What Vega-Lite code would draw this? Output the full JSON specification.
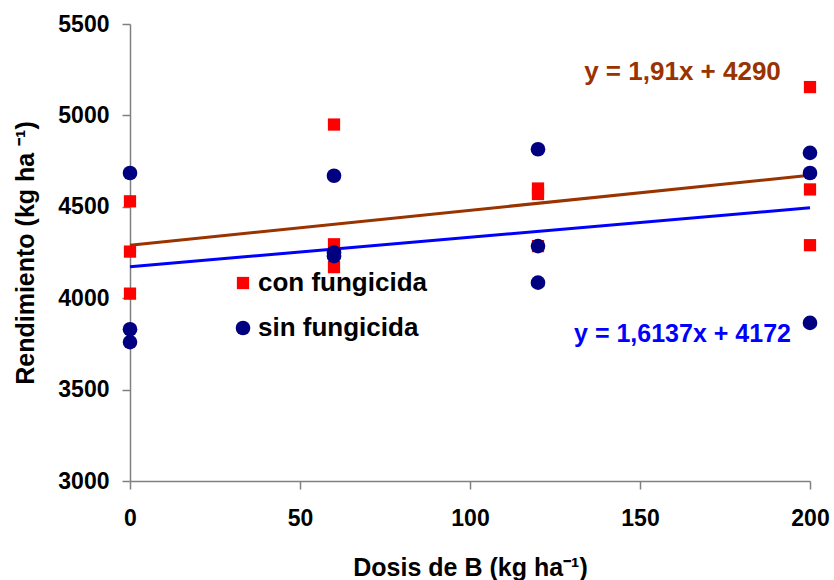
{
  "$schema": "https://vega.github.io/schema/vega-lite/v6.json",
  "width": 680,
  "height": 457,
  "autosize": "none",
  "padding": {"left": 130, "top": 24, "right": 24, "bottom": 99},
  "background": "white",
  "config": {
    "view": {"stroke": null},
    "font": "Liberation Sans",
    "axis": {
      "grid": false,
      "domainColor": "#808080",
      "domainWidth": 1.5,
      "tickColor": "#808080",
      "tickWidth": 1.5,
      "tickSize": 8,
      "labelFont": "Liberation Sans",
      "labelFontWeight": "bold",
      "labelFontSize": 23,
      "labelColor": "black",
      "titleFont": "Liberation Sans",
      "titleFontWeight": "bold",
      "titleFontSize": 25,
      "titleColor": "black"
    }
  },
  "layer": [
    {
      "data": {"values": [
        {"dosis": 0, "rend": 4290}, {"dosis": 200, "rend": 4672}
      ]},
      "mark": {"type": "line", "color": "#993300", "strokeWidth": 3},
      "encoding": {
        "x": {"field": "dosis", "type": "quantitative"},
        "y": {"field": "rend", "type": "quantitative"}
      }
    },
    {
      "data": {"values": [
        {"dosis": 0, "rend": 4172}, {"dosis": 200, "rend": 4494.7}
      ]},
      "mark": {"type": "line", "color": "#0000FF", "strokeWidth": 3},
      "encoding": {
        "x": {"field": "dosis", "type": "quantitative"},
        "y": {"field": "rend", "type": "quantitative"}
      }
    },
    {
      "data": {"values": [
        {"dosis": 0, "rend": 4530, "trat": "con fungicida"},
        {"dosis": 0, "rend": 4255, "trat": "con fungicida"},
        {"dosis": 0, "rend": 4025, "trat": "con fungicida"},
        {"dosis": 60, "rend": 4950, "trat": "con fungicida"},
        {"dosis": 60, "rend": 4295, "trat": "con fungicida"},
        {"dosis": 60, "rend": 4170, "trat": "con fungicida"},
        {"dosis": 120, "rend": 4600, "trat": "con fungicida"},
        {"dosis": 120, "rend": 4570, "trat": "con fungicida"},
        {"dosis": 120, "rend": 4285, "trat": "con fungicida"},
        {"dosis": 200, "rend": 5155, "trat": "con fungicida"},
        {"dosis": 200, "rend": 4595, "trat": "con fungicida"},
        {"dosis": 200, "rend": 4290, "trat": "con fungicida"},
        {"dosis": 0, "rend": 4685, "trat": "sin fungicida"},
        {"dosis": 0, "rend": 3830, "trat": "sin fungicida"},
        {"dosis": 0, "rend": 3760, "trat": "sin fungicida"},
        {"dosis": 60, "rend": 4670, "trat": "sin fungicida"},
        {"dosis": 60, "rend": 4250, "trat": "sin fungicida"},
        {"dosis": 60, "rend": 4230, "trat": "sin fungicida"},
        {"dosis": 120, "rend": 4815, "trat": "sin fungicida"},
        {"dosis": 120, "rend": 4285, "trat": "sin fungicida"},
        {"dosis": 120, "rend": 4085, "trat": "sin fungicida"},
        {"dosis": 200, "rend": 4795, "trat": "sin fungicida"},
        {"dosis": 200, "rend": 4685, "trat": "sin fungicida"},
        {"dosis": 200, "rend": 3865, "trat": "sin fungicida"}
      ]},
      "mark": {"type": "point", "filled": true, "opacity": 1},
      "encoding": {
        "x": {
          "field": "dosis", "type": "quantitative",
          "scale": {"domain": [0, 200], "nice": false},
          "axis": {"values": [0, 50, 100, 150, 200], "labelPadding": 18, "titlePadding": 25, "labelFlush": false},
          "title": "Dosis de B (kg ha⁻¹)"
        },
        "y": {
          "field": "rend", "type": "quantitative",
          "scale": {"domain": [3000, 5500], "nice": false, "zero": false},
          "axis": {"values": [3000, 3500, 4000, 4500, 5000, 5500], "format": "d", "labelPadding": 13, "titlePadding": 19, "labelFlush": false},
          "title": "Rendimiento (kg ha ⁻¹)"
        },
        "color": {
          "field": "trat", "type": "nominal",
          "scale": {"domain": ["con fungicida", "sin fungicida"], "range": ["#FF0000", "#000080"]},
          "legend": {
            "orient": "none",
            "legendX": 100,
            "legendY": 246,
            "title": null,
            "padding": 0,
            "labelFont": "Liberation Sans",
            "labelFontWeight": "bold",
            "labelFontSize": 26,
            "labelColor": "black",
            "labelOffset": 2,
            "labelLimit": 400,
            "rowPadding": 19,
            "symbolSize": 170,
            "symbolStrokeWidth": 0
          }
        },
        "shape": {
          "field": "trat", "type": "nominal",
          "scale": {"domain": ["con fungicida", "sin fungicida"], "range": ["square", "circle"]},
          "legend": null
        },
        "size": {
          "field": "trat", "type": "nominal",
          "scale": {"domain": ["con fungicida", "sin fungicida"], "range": [150, 215]},
          "legend": null
        }
      }
    },
    {
      "data": {"values": [{"dosis": 162.5, "rend": 5240, "label": "y = 1,91x + 4290"}]},
      "mark": {"type": "text", "color": "#993300", "font": "Liberation Sans", "fontWeight": "bold", "fontSize": 26, "align": "center", "baseline": "middle"},
      "encoding": {
        "x": {"field": "dosis", "type": "quantitative"},
        "y": {"field": "rend", "type": "quantitative"},
        "text": {"field": "label"}
      }
    },
    {
      "data": {"values": [{"dosis": 162.5, "rend": 3804, "label": "y = 1,6137x + 4172"}]},
      "mark": {"type": "text", "color": "#0000FF", "font": "Liberation Sans", "fontWeight": "bold", "fontSize": 25, "align": "center", "baseline": "middle"},
      "encoding": {
        "x": {"field": "dosis", "type": "quantitative"},
        "y": {"field": "rend", "type": "quantitative"},
        "text": {"field": "label"}
      }
    }
  ]
}
